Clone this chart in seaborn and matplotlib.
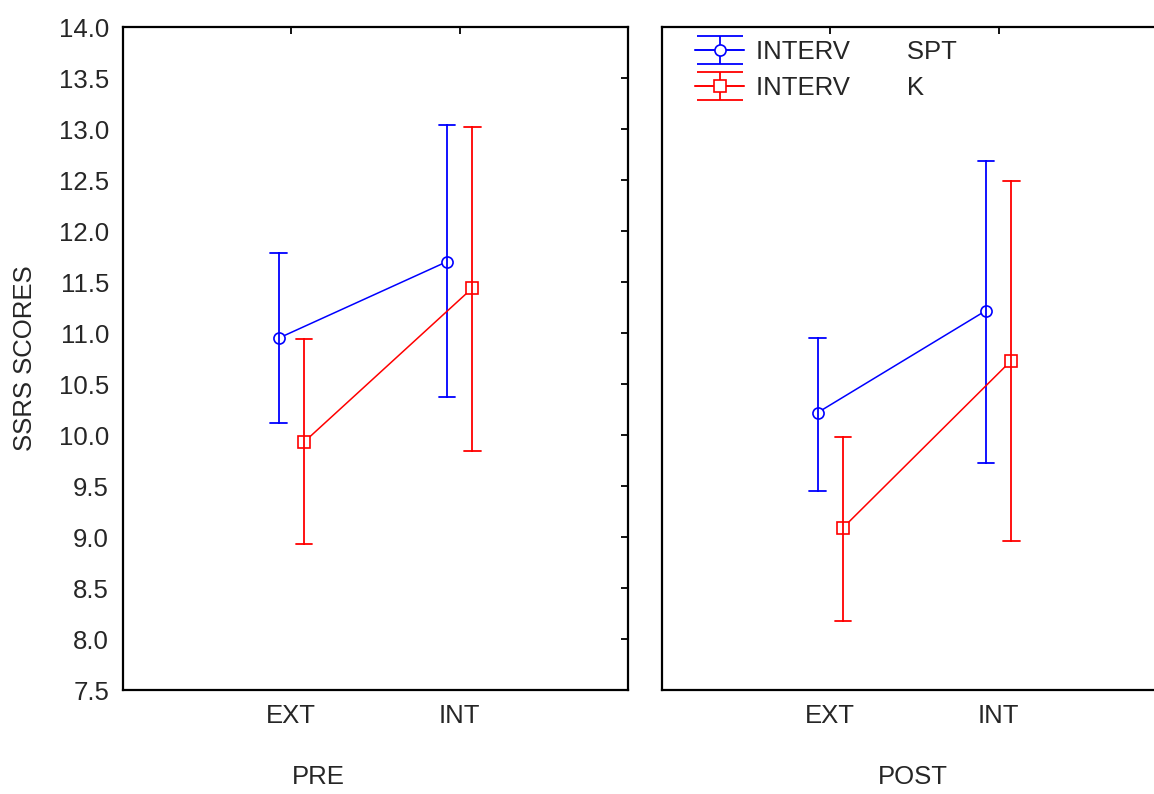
import numpy as np
import pandas as pd
import matplotlib
matplotlib.use('Agg')
import matplotlib.pyplot as plt
from matplotlib.lines import Line2D
from matplotlib.path import Path
import seaborn as sns

domains = ['EXT', 'INT']
groups = ['SPT', 'K']
phases = ['PRE', 'POST']

# means and CI bounds (EXT, INT)
pre_spt_mean = [10.95, 11.70]
pre_spt_low = [10.12, 10.37]
pre_spt_high = [11.78, 13.04]
pre_k_mean = [9.93, 11.44]
pre_k_low = [8.93, 9.84]
pre_k_high = [10.94, 13.02]
post_spt_mean = [10.22, 11.22]
post_spt_low = [9.45, 9.73]
post_spt_high = [10.95, 12.69]
post_k_mean = [9.09, 10.73]
post_k_low = [8.18, 8.96]
post_k_high = [9.98, 12.49]

series = {
    ('PRE', 'SPT'): (pre_spt_low, pre_spt_mean, pre_spt_high),
    ('PRE', 'K'): (pre_k_low, pre_k_mean, pre_k_high),
    ('POST', 'SPT'): (post_spt_low, post_spt_mean, post_spt_high),
    ('POST', 'K'): (post_k_low, post_k_mean, post_k_high),
}

# long table: low / mean / high per cell -> median gives mean, min/max give the CI
rows = []
for (phase, group), (lo, mu, hi) in series.items():
    for i, d in enumerate(domains):
        for v in (lo[i], mu[i], hi[i]):
            rows.append({'phase': phase, 'group': group, 'domain': d, 'score': v})
df = pd.DataFrame(rows)

sns.set_style('white')
plt.rcParams['font.family'] = ['Liberation Sans', 'DejaVu Sans']
plt.rcParams['text.color'] = '#262626'
plt.rcParams['axes.labelcolor'] = '#262626'
plt.rcParams['xtick.color'] = 'black'
plt.rcParams['ytick.color'] = 'black'
plt.rcParams['xtick.labelcolor'] = '#262626'
plt.rcParams['ytick.labelcolor'] = '#262626'

colors = ['#0000FF', '#FF0000']
fs = 18.5

fig = plt.figure(figsize=(11.54, 7.94), dpi=100)
ax1 = fig.add_axes([123 / 1154, 104 / 794, 505 / 1154, 663 / 794])
ax2 = fig.add_axes([662 / 1154, 104 / 794, 505 / 1154, 663 / 794])

for ax, phase in zip([ax1, ax2], phases):
    sns.pointplot(data=df[df.phase == phase], x='domain', y='score', hue='group',
                  order=domains, hue_order=groups, palette=colors,
                  markers=['o', 's'], linestyles=['-', '-'], dodge=0.15,
                  estimator='median', errorbar=lambda v: (v.min(), v.max()),
                  capsize=0.1, err_kws={'linewidth': 1.3},
                  linewidth=1.1, markersize=8, markerfacecolor='white',
                  markeredgewidth=1.2, legend=False, ax=ax)
    ax.set_xlim(-1, 2)
    ax.set_ylim(7.5, 14)
    ax.set_yticks(np.arange(7.5, 14.01, 0.5))
    ax.set_yticklabels([f'{v:.1f}' for v in np.arange(7.5, 14.01, 0.5)])
    ax.tick_params(direction='in', length=5, width=1.3, top=True, right=True,
                   labelsize=fs, pad=10)
    for s in ax.spines.values():
        s.set_color('black')
        s.set_linewidth(1.6)
    ax.set_xlabel(phase, fontsize=fs)
    ax.set_ylabel('')

ax1.xaxis.set_label_coords(0.386, -0.113)
ax2.xaxis.set_label_coords(0.497, -0.113)
ax1.set_ylabel('SSRS SCORES', fontsize=fs)
ax1.yaxis.set_label_coords(-0.171, 0.5)
ax2.tick_params(labelleft=False)

# legend handles shaped like the error bars
cap = Path([(-1, 0.6), (1, 0.6), (0, 0.6), (0, -0.6), (-1, -0.6), (1, -0.6)],
           [Path.MOVETO, Path.LINETO, Path.MOVETO, Path.LINETO, Path.MOVETO, Path.LINETO])
handles = []
for c, m in zip(colors, ['o', 's']):
    bars = Line2D([], [], color=c, lw=1.2, marker=cap, markersize=33, mfc='none', mew=1.3)
    pt = Line2D([], [], color=c, lw=1.2, marker=m, markersize=8, mfc='white', mew=1.2)
    handles.append((bars, pt))
ax2.legend(handles, ['INTERV        SPT', 'INTERV        K'], loc='upper left',
           bbox_to_anchor=(0.02, 1.015), frameon=False, fontsize=fs,
           handlelength=1.9, handletextpad=0.45, labelspacing=0.45)

fig.savefig('out.png', dpi=100)
